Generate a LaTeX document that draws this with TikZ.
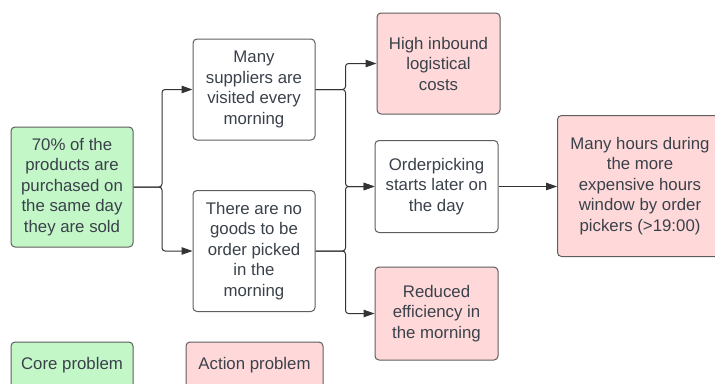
\documentclass[tikz,border=0pt]{standalone}
\usepackage{fontspec}
\setmainfont{Liberation Sans}
\usetikzlibrary{arrows.meta}
\definecolor{gfill}{HTML}{C3F7C8}
\definecolor{pfill}{HTML}{FFD9D9}
\definecolor{bord}{HTML}{5E5E5E}
\definecolor{txt}{HTML}{3A414A}
\definecolor{ln}{HTML}{333333}
\begin{document}
\begin{tikzpicture}[x=1pt,y=-1pt,
  box/.style={draw=bord, line width=1pt, rounded corners=4pt, align=center,
    text=txt, font=\fontsize{16.8}{20.5}\selectfont, inner sep=0pt},
  gbox/.style={box, fill=gfill},
  pbox/.style={box, fill=pfill},
  wbox/.style={box, fill=white},
  arr/.style={draw=ln, line width=1pt, rounded corners=3pt,
    -{Triangle[length=11pt,width=7.5pt]}}
]
\useasboundingbox (0,0) rectangle (715,383);

\node[gbox, minimum width=122pt, minimum height=120pt] (core) at (72,187)
  {70\% of the\\products are\\purchased on\\the same day\\they are sold};
\node[wbox, minimum width=122pt, minimum height=101pt] (sup) at (254,89.5)
  {Many\\suppliers are\\visited every\\morning};
\node[wbox, minimum width=122pt, minimum height=121pt] (nog) at (254,251)
  {There are no\\goods to be\\order picked\\in the\\morning};
\node[pbox, minimum width=123pt, minimum height=101pt] (high) at (438.5,63.5)
  {High inbound\\logistical\\costs};
\node[wbox, minimum width=123pt, minimum height=92pt] (ord) at (436.5,186.5)
  {Orderpicking\\starts later on\\the day};
\node[pbox, minimum width=123pt, minimum height=93pt] (red) at (436.5,313.5)
  {Reduced\\efficiency in\\the morning};
\node[pbox, minimum width=165pt, minimum height=141pt] (hours) at (640,186)
  {Many hours during\\the more\\expensive hours\\window by order\\pickers (>19:00)};

\node[gbox, minimum width=122pt, minimum height=50pt] (leg1) at (72,367)
  {\raisebox{8pt}{Core problem}};
\node[pbox, minimum width=137pt, minimum height=50pt] (leg2) at (254.5,367)
  {\raisebox{8pt}{Action problem}};

\coordinate (j1) at (162,187);
\coordinate (j2) at (345.5,89.5);
\coordinate (j3) at (345.5,251);

\draw[arr] (core.east) -- (j1) |- (sup.west);
\draw[arr] (core.east) -- (j1) |- (nog.west);
\draw[arr] (sup.east) -- (j2) |- (high.west);
\draw[arr] (sup.east) -- (j2) |- (ord.west);
\draw[arr] (nog.east) -- (j3) |- (ord.west);
\draw[arr] (nog.east) -- (j3) |- (red.west);
\draw[arr] (ord.east) -- (ord.east -| hours.west);
\end{tikzpicture}
\end{document}
